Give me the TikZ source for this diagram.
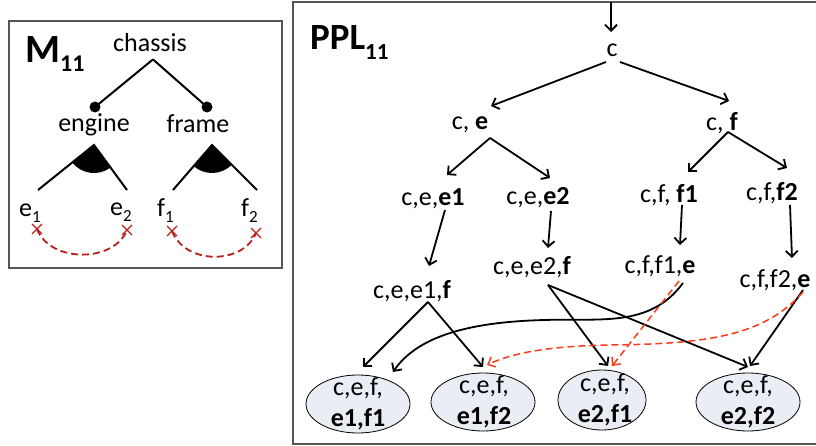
\documentclass[tikz,border=0pt]{standalone}
\usepackage{fontspec}
\setmainfont{Carlito}
\usetikzlibrary{arrows.meta,shapes.geometric}
\definecolor{frameg}{RGB}{85,85,85}
\definecolor{darkred}{RGB}{185,30,25}
\definecolor{brred}{RGB}{250,60,25}
\definecolor{ellfill}{RGB}{234,237,244}
\begin{document}
\begin{tikzpicture}[x=1pt,y=-1pt,
  lbl/.style={inner sep=0pt,font=\fontsize{26}{31}\selectfont},
  arr/.style={line width=1.8pt,-{Straight Barb[length=6pt,width=12pt]}},
  redarr/.style={line width=1.5pt,brred,dash pattern=on 7pt off 4pt,-{Straight Barb[length=6pt,width=11pt]}},
  ell/.style={ellipse,draw=black,line width=0.8pt,fill=ellfill,inner sep=0pt},
  boxframe/.style={line width=1.4pt,frameg},
  fanline/.style={line width=2pt},
  xmark/.style={darkred,line width=1.3pt},
  dotnode/.style={circle,fill=black,inner sep=0pt,minimum size=11pt},
  subs/.style={},
]
\useasboundingbox (0,0) rectangle (816,446);

% ---------------- left box: M11 ----------------
\draw[boxframe] (9,21) rectangle (282,268);
\node[anchor=base west,inner sep=0pt] (mtitle) at (25,63)
  {\bfseries\fontsize{40}{40}\selectfont M\raisebox{-9pt}{\fontsize{24}{24}\selectfont 11}};
\node[lbl,anchor=base] (chassis) at (150,52) {chassis};
\node[dotnode] (d1) at (95,107) {};
\node[dotnode] (d2) at (207,107) {};
\draw[fanline] ([shift={(3,7)}]chassis.south) -- (d1.center);
\draw[fanline] ([shift={(3,7)}]chassis.south) -- (d2.center);
\node[lbl,anchor=base] (engine) at (94,132) {engine};
\node[lbl,anchor=base] (frame) at (198,133) {frame};

% fans
\coordinate (a1) at (94,145);
\coordinate (a1l) at (38,190);
\coordinate (a1r) at (127,190);
\fill (a1) -- ++(141.2:28) arc[start angle=141.2,end angle=53.7,radius=28] -- cycle;
\draw[fanline] (a1l) -- (a1) -- (a1r);
\coordinate (a2) at (212,145);
\coordinate (a2l) at (173,190);
\coordinate (a2r) at (257,190);
\fill (a2) -- ++(130.9:28) arc[start angle=130.9,end angle=45,radius=28] -- cycle;
\draw[fanline] (a2l) -- (a2) -- (a2r);

% leaves
\node[lbl,anchor=base west] (le1) at (19,217) {e\raisebox{-6pt}{\fontsize{17}{17}\selectfont 1}};
\node[lbl,anchor=base west] (le2) at (110,216) {e\raisebox{-6pt}{\fontsize{17}{17}\selectfont 2}};
\node[lbl,anchor=base west] (lf1) at (157,217) {f\raisebox{-6pt}{\fontsize{17}{17}\selectfont 1}};
\node[lbl,anchor=base west] (lf2) at (241,217) {f\raisebox{-6pt}{\fontsize{17}{17}\selectfont 2}};

% x marks
\coordinate (x1) at (37,229);
\coordinate (x2) at (127,230);
\coordinate (x3) at (172,231);
\coordinate (x4) at (256,233);
\foreach \p in {x1,x2,x3,x4}{
  \draw[xmark] ([shift={(-5,-5)}]\p) -- ([shift={(5,5)}]\p);
  \draw[xmark] ([shift={(-5,5)}]\p) -- ([shift={(5,-5)}]\p);
}
\draw[darkred,line width=1.8pt,dash pattern=on 7pt off 4pt] (x1) .. controls (50,263) and (114,263) .. (x2);
\draw[darkred,line width=1.8pt,dash pattern=on 7pt off 4pt] (x3) .. controls (185,265) and (243,265) .. (x4);

% ---------------- right box: PPL11 ----------------
\draw[boxframe] (817,2) -- (293,2) -- (293,444) -- (817,444);
\node[anchor=base west,inner sep=0pt] (ptitle) at (310,50)
  {\bfseries\fontsize{37}{37}\selectfont PPL\raisebox{-10pt}{\fontsize{23}{23}\selectfont 11}};

\node[lbl] (c) at (612,50) {c};
\node[lbl] (ce) at (470,125) {c, \textbf{e}};
\node[lbl] (cf) at (722,123) {c, \textbf{f}};
\node[lbl] (ee1) at (433,199) {c,e,\textbf{e1}};
\node[lbl] (ee2) at (538,198) {c,e,\textbf{e2}};
\node[lbl] (ff1) at (669,195) {c,f, \textbf{f1}};
\node[lbl] (ff2) at (772,193) {c,f,\textbf{f2}};
\node[lbl] (e1f) at (412,291) {c,e,e1,\textbf{f}};
\node[lbl] (e2f) at (532,267) {c,e,e2,\textbf{f}};
\node[lbl] (f1e) at (660,266) {c,f,f1,\textbf{e}};
\node[lbl] (f2e) at (775,280) {c,f,f2,\textbf{e}};

\node[ell,minimum width=104pt,minimum height=58pt] (el1) at (358,404) {};
\node[ell,minimum width=104pt,minimum height=58pt] (el2) at (483,402) {};
\node[ell,minimum width=88pt,minimum height=60pt] (el3) at (602,400) {};
\node[ell,minimum width=104pt,minimum height=58pt] (el4) at (748,402) {};
\node[lbl,align=center] (el1t) at (358,404) {c,e,f,\\\textbf{e1,f1}};
\node[lbl,align=center] (el2t) at (484,402) {c,e,f,\\\textbf{e1,f2}};
\node[lbl,align=center] (el3t) at (605,400) {c,e,f,\\\textbf{e2,f1}};
\node[lbl,align=center] (el4t) at (748,402) {c,e,f,\\\textbf{e2,f2}};

\coordinate (entry) at (611,2);
\draw[arr] (entry) -- ([shift={(-1,-18)}]c.center);
\draw[arr] ([shift={(-6,12)}]c.center) -- ([shift={(21,-19)}]ce.center);
\draw[arr] ([shift={(8,12)}]c.center) -- ([shift={(7,-22)}]cf.center);
\draw[arr] ([shift={(20,13)}]ce.center) -- ([shift={(14,-24)}]ee1.center);
\draw[arr] ([shift={(20,13)}]ce.center) -- ([shift={(12,-20)}]ee2.center);
\draw[arr] ([shift={(6,9)}]cf.center) -- ([shift={(19,-23)}]ff1.center);
\draw[arr] ([shift={(6,9)}]cf.center) -- ([shift={(15,-25)}]ff2.center);
\draw[arr] ([shift={(12,11)}]ee1.center) -- ([shift={(17,-25)}]e1f.center);
\draw[arr] ([shift={(13,13)}]ee2.center) -- ([shift={(16,-19)}]e2f.center);
\draw[arr] ([shift={(13,10)}]ff1.center) -- ([shift={(20,-21)}]f1e.center);
\draw[arr] ([shift={(18,12)}]ff2.center) -- ([shift={(17,-22)}]f2e.center);

\draw[arr] ([shift={(16,11)}]e1f.center) -- ([shift={(5,-37)}]el1.center);
\draw[arr] ([shift={(16,11)}]e1f.center) -- ([shift={(0,-35)}]el2.center);
\draw[arr] ([shift={(16,18)}]e2f.center) -- ([shift={(6,-34)}]el3.center);
\draw[arr] ([shift={(16,18)}]e2f.center) -- ([shift={(0,-35)}]el4.center);
\draw[arr] ([shift={(28,10)}]f2e.center) -- ([shift={(2,-36)}]el4.center);
\draw[arr] ([shift={(23,17)}]f1e.center) .. controls (650,328) and (600,318) .. (545,320)
   .. controls (460,322) and (415,340) .. ([shift={(35,-32)}]el1.center);

\draw[redarr] ([shift={(19,15)}]f1e.center) -- ([shift={(10,-34)}]el3.center);
\draw[redarr] ([shift={(28,12)}]f2e.center) .. controls (765,335) and (710,344) .. (610,345)
   .. controls (545,346) and (510,354) .. ([shift={(4,-37)}]el2.center);
\end{tikzpicture}
\end{document}
